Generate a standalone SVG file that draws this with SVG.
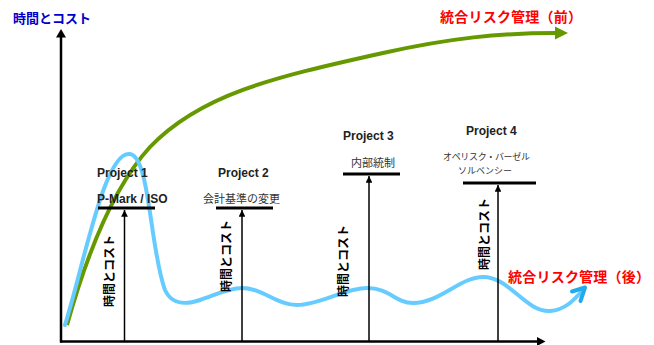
<svg xmlns="http://www.w3.org/2000/svg" width="654" height="345" viewBox="0 0 654 345">
<style>
.proj{font-family:"Liberation Sans",Arial,sans-serif;font-weight:bold;font-size:12px;fill:#222}
.lbl{font-family:"Noto Sans CJK JP",sans-serif;font-size:11px;fill:#333}
.lbl9{font-family:"Noto Sans CJK JP",sans-serif;font-size:9px;fill:#333}
.rot{font-family:"Noto Sans CJK JP",sans-serif;font-weight:bold;font-size:12px;fill:#000}
.red{font-family:"Noto Sans CJK JP",sans-serif;font-weight:bold;font-size:14px;fill:#ff0000}
.bar{stroke:#000;stroke-width:3}
.vline{stroke:#000;stroke-width:1.5;fill:none}
.axis{stroke:#000;stroke-width:2.5;fill:none}
</style>
<defs>
<marker id="small" viewBox="0 0 8 8" refX="8" refY="4" markerWidth="4.5" markerHeight="4.5" orient="auto" markerUnits="strokeWidth">
<path d="M0,0 L8,4 L0,8 z" fill="#000"/>
</marker>
</defs>
<rect width="654" height="345" fill="#fff"/>
<g id="connectors">
<path d="M67,325 C88,250 115,185 150,147 C200,95 270,78 383,53 C450,38 500,33 556,33" stroke="#669900" stroke-width="4" fill="none"/>
<polygon points="568,33 555,26.5 555,39.5" fill="#669900"/>
<path d="M65,325 C85,260 105,150 130,154 C150,157 150,250 165,290 C172,305 185,305 200,300 C215,295 228,288 242,288 C262,288 277,305 297,305 C320,305 345,288 367,288 C390,288 395,303 413,303 C440,303 460,277 483,277 C510,277 525,312 550,311 C565,310 574,300 582,291" stroke="#66ccff" stroke-width="4" fill="none" stroke-linecap="round"/>
<polyline points="572,291.5 585,287.5 580.5,301" stroke="#22aaee" stroke-width="4" fill="none" stroke-linecap="round" stroke-linejoin="round"/>
<line class="axis" x1="61" y1="342.5" x2="61" y2="36"/>
<polygon points="61,29 56,37.5 66,37.5" fill="#000"/>
<line class="axis" x1="60" y1="341.5" x2="538" y2="341.5"/>
<polygon points="545.5,341.5 537,337 537,346" fill="#000"/>
<line class="vline" x1="124.5" y1="341" x2="124.5" y2="210" marker-end="url(#small)"/>
<line class="vline" x1="242" y1="341" x2="242" y2="210" marker-end="url(#small)"/>
<line class="vline" x1="369" y1="341" x2="369" y2="176" marker-end="url(#small)"/>
<line class="vline" x1="498" y1="341" x2="498" y2="185" marker-end="url(#small)"/>
</g>
<g id="title-y">
<text x="13" y="23" font-family="Noto Sans CJK JP,sans-serif" font-weight="bold" font-size="13px" fill="#0000cc" textLength="78" lengthAdjust="spacing">時間とコスト</text>
</g>
<g id="title-before">
<text class="red" x="440" y="22" textLength="142" lengthAdjust="spacing">統合リスク管理（前）</text>
</g>
<g id="title-after">
<text class="red" x="508" y="282" textLength="142" lengthAdjust="spacing">統合リスク管理（後）</text>
</g>
<g id="project1">
<text class="proj" x="97" y="177">Project 1</text>
<text class="proj" x="97" y="203" font-size="11.5px">P-Mark / ISO</text>
<line class="bar" x1="98" y1="208" x2="155" y2="208"/>
<text class="rot" transform="translate(108.5,271) rotate(-90)" text-anchor="middle" dominant-baseline="central">時間とコスト</text>
</g>
<g id="project2">
<text class="proj" x="218" y="177">Project 2</text>
<text class="lbl" x="203" y="203">会計基準の変更</text>
<line class="bar" x1="216" y1="208" x2="273" y2="208"/>
<text class="rot" transform="translate(225,256) rotate(-90)" text-anchor="middle" dominant-baseline="central">時間とコスト</text>
</g>
<g id="project3">
<text class="proj" x="343" y="140">Project 3</text>
<text class="lbl" x="351" y="167">内部統制</text>
<line class="bar" x1="343" y1="174" x2="400" y2="174"/>
<text class="rot" transform="translate(342.5,261) rotate(-90)" text-anchor="middle" dominant-baseline="central">時間とコスト</text>
</g>
<g id="project4">
<text class="proj" x="466" y="134.5">Project 4</text>
<text class="lbl9" x="443" y="160" textLength="87" lengthAdjust="spacing">オペリスク・バーゼル</text>
<text class="lbl9" x="458" y="174">ソルベンシー</text>
<line class="bar" x1="463" y1="183" x2="536" y2="183"/>
<text class="rot" transform="translate(483,234) rotate(-90)" text-anchor="middle" dominant-baseline="central">時間とコスト</text>
</g>
</svg>
